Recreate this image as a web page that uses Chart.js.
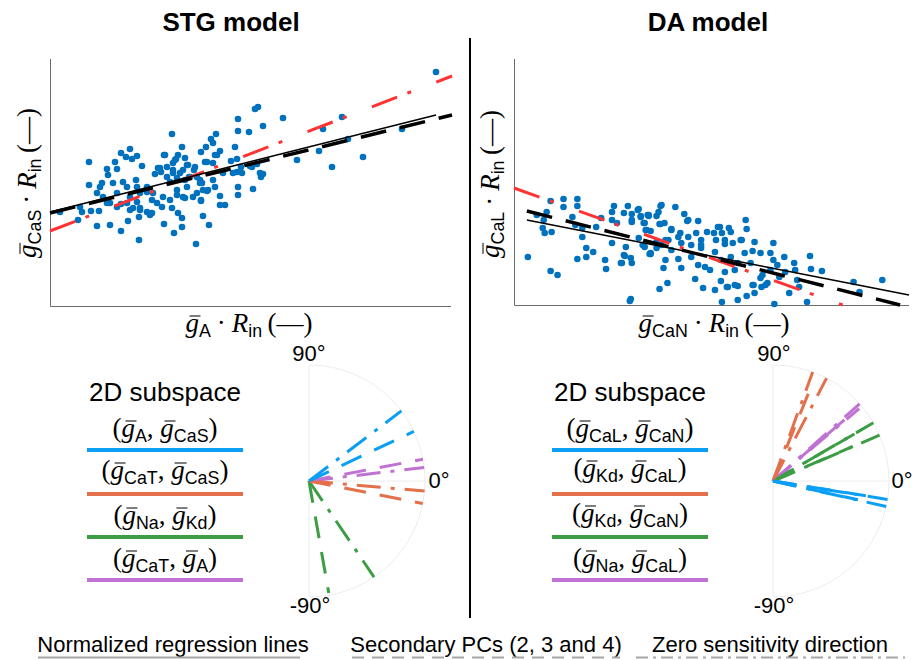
<!DOCTYPE html>
<html>
<head>
<meta charset="utf-8">
<script src="https://cdn.jsdelivr.net/npm/chart.js"></script>
<style>
  body { margin:0; width:913px; height:660px; position:relative; overflow:hidden; background:#fff;
         font-family:'Liberation Sans', Arial, sans-serif; color:#000; }
  .t { position:absolute; transform:translate(-50%,-50%); white-space:nowrap; line-height:1; }
  .title { font-weight:bold; font-size:26px; }
  .m { font-family:'Liberation Serif', serif; font-size:27px; }
  .rot { transform:translate(-50%,-50%) rotate(-90deg); }
  .gb { font-style:italic; position:relative; display:inline-block; }
  .gb::before { content:''; position:absolute; left:0.14em; width:0.42em; top:0.22em; border-top:0.05em solid #000; }
  .m i { font-style:italic; }
  .m sub { font-family:'Liberation Sans', Arial, sans-serif; font-style:normal; font-size:0.66em; vertical-align:-0.3em; line-height:0; }
  .cd { margin:0 0.22em; }
  .pr { margin-left:0.2em; }
  .leg { font-size:26px; }
  .ang { font-size:22px; }
  .foot { font-size:22px; }
  .bar { position:absolute; height:4px; }
  .divider { position:absolute; left:469px; top:38px; width:2px; height:580px; background:#000; }
</style>
</head>
<body>
<div class="t title" style="left:231px;top:22px">STG model</div>
<div class="t title" style="left:708px;top:22px">DA model</div>
<div class="divider"></div>

<div class="t m" style="left:249px;top:323px"><span class="gb">g</span><sub>A</sub><span class="cd">·</span><i>R</i><sub>in</sub><span class="pr">(—)</span></div>
<div class="t m rot" style="left:27px;top:183px"><span class="gb">g</span><sub>CaS</sub><span class="cd">·</span><i>R</i><sub>in</sub><span class="pr">(—)</span></div>
<div class="t m" style="left:714px;top:323px"><span class="gb">g</span><sub>CaN</sub><span class="cd">·</span><i>R</i><sub>in</sub><span class="pr">(—)</span></div>
<div class="t m rot" style="left:490px;top:184px"><span class="gb">g</span><sub>CaL</sub><span class="cd">·</span><i>R</i><sub>in</sub><span class="pr">(—)</span></div>

<div class="t leg" style="left:165px;top:392px">2D subspace</div>
<div class="t m" style="left:165px;top:428px">(<span class="gb">g</span><sub>A</sub>, <span class="gb">g</span><sub>CaS</sub>)</div>
<div class="t m" style="left:165px;top:470px">(<span class="gb">g</span><sub>CaT</sub>, <span class="gb">g</span><sub>CaS</sub>)</div>
<div class="t m" style="left:165px;top:515px">(<span class="gb">g</span><sub>Na</sub>, <span class="gb">g</span><sub>Kd</sub>)</div>
<div class="t m" style="left:165px;top:558px">(<span class="gb">g</span><sub>CaT</sub>, <span class="gb">g</span><sub>A</sub>)</div>

<div class="t leg" style="left:630px;top:392px">2D subspace</div>
<div class="t m" style="left:630px;top:428px">(<span class="gb">g</span><sub>CaL</sub>, <span class="gb">g</span><sub>CaN</sub>)</div>
<div class="t m" style="left:630px;top:468px">(<span class="gb">g</span><sub>Kd</sub>, <span class="gb">g</span><sub>CaL</sub>)</div>
<div class="t m" style="left:630px;top:513px">(<span class="gb">g</span><sub>Kd</sub>, <span class="gb">g</span><sub>CaN</sub>)</div>
<div class="t m" style="left:630px;top:558px">(<span class="gb">g</span><sub>Na</sub>, <span class="gb">g</span><sub>CaL</sub>)</div>

<div class="t ang" style="left:309px;top:354px">90°</div>
<div class="t ang" style="left:439px;top:481px">0°</div>
<div class="t ang" style="left:310px;top:606px">-90°</div>
<div class="t ang" style="left:774px;top:354px">90°</div>
<div class="t ang" style="left:902px;top:481px">0°</div>
<div class="t ang" style="left:774px;top:606px">-90°</div>

<div class="t foot" style="left:173px;top:645px">Normalized regression lines</div>
<div class="t foot" style="left:486px;top:645px">Secondary PCs (2, 3 and 4)</div>
<div class="t foot" style="left:770px;top:645px">Zero sensitivity direction</div>

<script>
// ---- data (units, arbitrary normalized scale) ----
const stgPoints = [[386,234],[205,197],[208,199],[233,188],[188,187],[292,189],[213,180],[188,175],[199,174],[273,177],
  [352,177],[166,172],[122,172],[161,167],[163,163],[156,159],[151,154],[170,155],[132,159],[80,157],[71,153],[76,149],
  [87,150],[82,147],[114,151],[39,144],[65,144],[57,137],[67,137],[92,140],[58,131],[185,159],[187,147],[191,139],
  [202,139],[210,133],[213,132],[211,129],[247,146],[269,155],[282,139],[313,149],[298,167],[167,151],[157,144],
  [138,141],[145,139],[126,147],[123,143],[117,139],[108,138],[111,134],[105,132],[117,129],[123,133],[127,128],
  [120,124],[183,133],[173,133],[163,126],[165,119],[150,123],[153,116],[147,113],[135,126],[137,119],[133,109],
  [143,109],[157,115],[170,110],[188,119],[188,111],[203,117],[170,101],[175,101],[151,105],[39,121],[50,119],
  [52,123],[47,113],[63,123],[73,124],[77,119],[86,126],[87,119],[97,119],[67,113],[80,109],[90,113],[97,114],
  [103,113],[60,103],[67,99],[71,102],[77,103],[87,104],[83,98],[90,96],[97,94],[102,93],[107,103],[113,109],
  [112,99],[120,106],[122,98],[127,111],[128,93],[132,88],[135,108],[30,99],[32,94],[41,95],[49,95],[10,94],
  [28,86],[47,80],[60,81],[71,75],[78,85],[89,66],[89,89],[100,91],[114,82],[124,73],[132,79],[146,62],[153,90],
  [159,81],[53,109],[57,103],[110,138],[115,151],[125,146],[137,141],[140,129],[147,129],[152,123],[155,144],
  [144,136],[133,136],[127,116],[102,106],[90,98],[80,96],[181,145],[187,134],[192,133],[200,140],[207,142],
  [158,116],[165,151],[163,143],[139,129],[130,133],[123,136],[135,148],[128,151],[151,106],[150,126]];

const daPoints = [[14,48],[37,104],[50,106],[64,106],[50,98],[64,99],[33,93],[29,77],[38,73],[31,72],[37,34],
  [44,30],[59,88],[62,80],[69,77],[69,68],[73,57],[64,46],[73,48],[80,53],[83,78],[88,87],[92,45],[93,36],[99,93],
  [101,99],[99,85],[104,82],[99,62],[109,42],[111,50],[119,42],[118,47],[119,85],[115,99],[111,92],[125,95],
  [128,89],[131,82],[136,89],[138,74],[132,58],[138,51],[144,89],[147,81],[148,99],[152,82],[163,98],[172,91],
  [175,84],[186,84],[159,76],[168,72],[176,68],[184,72],[156,65],[149,60],[159,55],[169,62],[179,60],[189,65],
  [166,46],[179,48],[186,40],[193,38],[195,73],[202,72],[208,78],[210,72],[217,77],[219,73],[213,65],[204,65],
  [221,62],[230,65],[234,85],[235,76],[243,63],[241,54],[249,52],[203,53],[209,45],[219,48],[226,42],[233,52],
  [239,42],[213,33],[209,24],[203,15],[210,3],[191,17],[183,26],[169,37],[151,37],[147,16],[155,22],[215,18],
  [226,19],[226,5],[235,9],[243,12],[242,20],[250,18],[251,30],[256,22],[259,35],[262,45],[262,62],[273,48],
  [266,40],[274,33],[283,42],[284,35],[286,25],[288,18],[278,12],[263,1],[299,49],[300,36],[311,34],[296,3],
  [343,23],[349,13],[372,25],[118,6],[117,4],[259,52],[223,35],[198,35],[189,57],[153,45],[149,100],[146,93],
  [136,90],[128,88],[132,82],[134,75],[126,67],[176,85],[148,81],[159,75],[166,68],[153,65],[144,63],[138,52],
  [206,78],[229,65],[213,61],[189,60],[216,18],[254,20],[249,27],[268,28],[241,20],[223,20],[23,90],[30,85],
  [113,58],[112,49],[108,42],[119,91],[126,96],[119,83],[133,75],[135,90],[130,60],[137,51],[144,57]];

// fitted lines: [x0, x1], [y0, y1]
const stgFitX = [0, 386],  stgFitY = [94, 191];
const stgPcX = [0, 402],   stgPcY = [93, 191];
const stgZeroX = [0, 402], stgZeroY = [75, 230];
const daFitX = [13, 399],  daFitY = [85, 10];
const daPcX = [13, 390],   daPcY = [94, 0];
const daZeroX = [0, 332],  daZeroY = [117, 0];

// fan directions (degrees) and lengths, group = subspace index
const subspaceColors = ['#0A9EF5', '#E3704A', '#3C9D45', '#C072D2'];
const stgPcAng = [25.3, -11.2, -80, 10.8];
const stgPcLen = [1.0, 1.0, 0.98, 1.0];
const stgPcGroup = [0, 1, 2, 3];
const stgZeroAng = [37.2, -5, -55.9, 6.7];
const stgZeroLen = [1.0, 1.0, 1.0, 1.0];
const stgZeroGroup = [0, 1, 2, 3];
const daPcAng = [-9, -12.4, 68, 30, 23.4, 40.6];
const daPcLen = [0.85, 0.75, 0.85, 0.85, 0.75, 0.87];
const daPcGroup = [0, 0, 1, 2, 2, 3];
const daZeroAng = [-9.2, -12.7, 70, 62.5, 30.1, 23.3, 41.7, 40];
const daZeroLen = [1, 1, 1, 1, 1, 1, 1, 0.97];
const daZeroGroup = [0, 0, 1, 1, 2, 2, 3, 3];

function makeCanvas(left, top, w, h) {
    var c = document.createElement('canvas');
    c.width = w; c.height = h;
    c.style.cssText = 'position:absolute;left:' + left + 'px;top:' + top + 'px';
    document.body.appendChild(c);
    return c;
}

const axesLines = {
    id: 'axesLines',
    beforeDatasetsDraw(chart) {
        const { ctx, chartArea: a } = chart;
        ctx.save();
        ctx.strokeStyle = '#6b6b6b';
        ctx.lineWidth = 1;
        ctx.beginPath();
        ctx.moveTo(a.left + 0.5, a.top);
        ctx.lineTo(a.left + 0.5, a.bottom + 0.5);
        ctx.lineTo(a.right, a.bottom + 0.5);
        ctx.stroke();
        ctx.restore();
    }
};

function lineSet(xs, ys, color, width, dash) {
    return {
        data: [{ x: xs[0], y: ys[0] }, { x: xs[1], y: ys[1] }],
        showLine: true, borderColor: color, borderWidth: width, borderDash: dash,
        pointRadius: 0, clip: false
    };
}

function scatterChart(canvas, points, fit, pc, zero, xMax, yMax, pad) {
    new Chart(canvas, {
        type: 'scatter',
        data: {
            datasets: [
                lineSet(fit[0], fit[1], '#000', 1.5, []),
                lineSet(pc[0], pc[1], '#000', 3.5, [26, 14]),
                lineSet(zero[0], zero[1], '#FF3333', 3, [27, 11, 4, 27]),
                {
                    data: points.map(p => ({ x: p[0], y: p[1] })),
                    backgroundColor: '#0072BD', pointRadius: 3.3, borderWidth: 0, clip: false
                }
            ]
        },
        options: {
            responsive: false, animation: false,
            layout: { padding: pad },
            plugins: { legend: { display: false }, tooltip: { enabled: false } },
            scales: {
                x: { type: 'linear', min: 0, max: xMax, display: false },
                y: { type: 'linear', min: 0, max: yMax, display: false }
            }
        },
        plugins: [axesLines]
    });
}

scatterChart(makeCanvas(42, 51, 417, 263), stgPoints, [stgFitX, stgFitY], [stgPcX, stgPcY],
    [stgZeroX, stgZeroY], 401, 247, { left: 8, right: 8, top: 8, bottom: 8 });
scatterChart(makeCanvas(506, 51, 407, 262), daPoints, [daFitX, daFitY], [daPcX, daPcY],
    [daZeroX, daZeroY], 399, 246, { left: 8, right: 0, top: 8, bottom: 8 });

const fanGrid = {
    id: 'fanGrid',
    beforeDatasetsDraw(chart) {
        const { ctx, scales: { x, y } } = chart;
        const cx = x.getPixelForValue(0), cy = y.getPixelForValue(0);
        const r = x.getPixelForValue(1) - cx;
        ctx.save();
        ctx.strokeStyle = '#ececec';
        ctx.lineWidth = 1;
        ctx.beginPath();
        ctx.arc(cx, cy, r, -Math.PI / 2, Math.PI / 2);
        ctx.stroke();
        ctx.beginPath();
        ctx.moveTo(cx, cy - r); ctx.lineTo(cx, cy + r);
        ctx.moveTo(cx, cy); ctx.lineTo(cx + r, cy);
        ctx.stroke();
        ctx.restore();
    }
};

function rays(angles, lens, groups, dash) {
    return angles.map((a, i) => {
        const t = a * Math.PI / 180;
        return {
            data: [{ x: 0, y: 0 }, { x: lens[i] * Math.cos(t), y: lens[i] * Math.sin(t) }],
            showLine: true, borderColor: subspaceColors[groups[i]], borderWidth: 3,
            borderDash: dash, pointRadius: 0, clip: false
        };
    });
}

function fanChart(left, top, w, h, ox, oy, R, pcs, zeros) {
    const canvas = makeCanvas(left, top, w, h);
    new Chart(canvas, {
        type: 'scatter',
        data: { datasets: pcs.concat(zeros) },
        options: {
            responsive: false, animation: false,
            layout: { padding: 0 },
            plugins: { legend: { display: false }, tooltip: { enabled: false } },
            scales: {
                x: { type: 'linear', min: -(ox - left) / R, max: (left + w - ox) / R, display: false },
                y: { type: 'linear', min: -(top + h - oy) / R, max: (oy - top) / R, display: false }
            }
        },
        plugins: [fanGrid]
    });
}

fanChart(286, 355, 170, 252, 309, 481, 116,
    rays(stgPcAng, stgPcLen, stgPcGroup, [22, 14]),
    rays(stgZeroAng, stgZeroLen, stgZeroGroup, [24, 10, 4, 10]));
fanChart(750, 355, 163, 252, 773, 481, 116,
    rays(daPcAng, daPcLen, daPcGroup, [22, 14]),
    rays(daZeroAng, daZeroLen, daZeroGroup, [24, 10, 4, 10]));

// legend bars for the subspaces
[[87, 243], [552, 708]].forEach(function (span) {
    [450, 494, 537, 580].forEach(function (y, i) {
        var b = document.createElement('div');
        b.className = 'bar';
        b.style.cssText = 'left:' + span[0] + 'px;top:' + (y - 2) + 'px;width:' + (span[1] - span[0]) + 'px;background:' + subspaceColors[i];
        document.body.appendChild(b);
    });
});

// bottom key lines
var key = makeCanvas(0, 650, 913, 10).getContext('2d');
key.strokeStyle = '#a6a6a6';
key.lineWidth = 2;
[[38, 300, []], [352, 620, [12, 8]], [636, 905, [12, 5, 3, 5]]].forEach(function (k) {
    key.setLineDash(k[2]);
    key.beginPath();
    key.moveTo(k[0], 7.5);
    key.lineTo(k[1], 7.5);
    key.stroke();
});
</script>
</body>
</html>
